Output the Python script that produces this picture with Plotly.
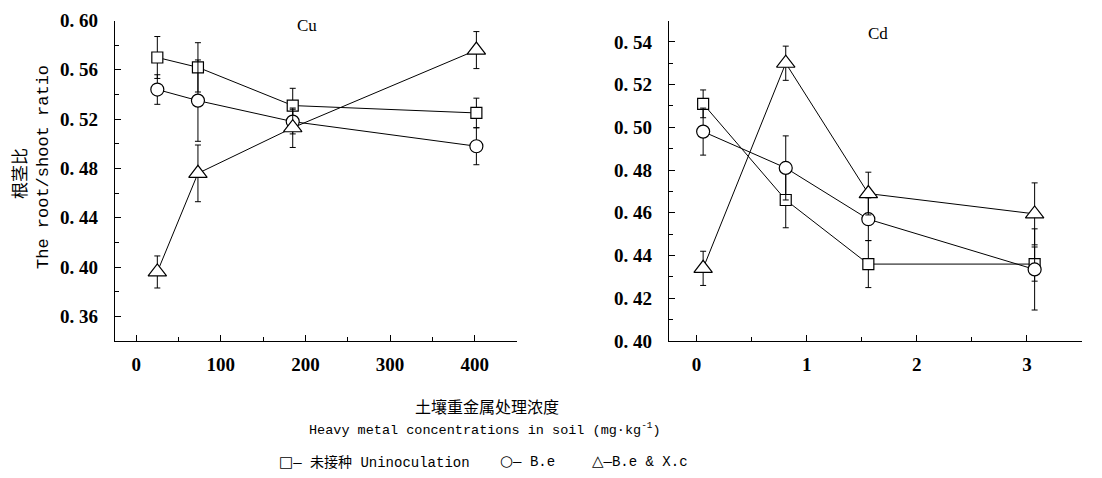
import plotly.graph_objects as go

W, H = 1102, 478

# ---- data ----
x_cu = [25, 73, 185, 402]
cu_uninoc = [0.570, 0.562, 0.531, 0.525]
cu_uninoc_err = [0.017, 0.020, 0.014, 0.012]
cu_be = [0.544, 0.535, 0.518, 0.498]
cu_be_err = [0.012, 0.033, 0.010, 0.015]
cu_bexc = [0.396, 0.476, 0.513, 0.576]
cu_bexc_err = [0.013, 0.023, 0.016, 0.015]

x_cd = [0.06, 0.81, 1.56, 3.07]
cd_uninoc = [0.511, 0.466, 0.436, 0.436]
cd_uninoc_err = [0.0065, 0.013, 0.011, 0.008]
cd_be = [0.498, 0.481, 0.457, 0.4335]
cd_be_err = [0.011, 0.015, 0.010, 0.019]
cd_bexc = [0.434, 0.530, 0.469, 0.4595]
cd_bexc_err = [0.008, 0.008, 0.010, 0.0145]

cu_yticks = [0.36, 0.40, 0.44, 0.48, 0.52, 0.56, 0.60]
cd_yticks = [0.40, 0.42, 0.44, 0.46, 0.48, 0.50, 0.52, 0.54]
cu_xticks = [0, 100, 200, 300, 400]
cd_xticks = [0, 1, 2, 3]

series_names = ["未接种 Uninoculation", "B.e", "B.e & X.c"]
symbols = ["square", "circle", "triangle-up"]
sizes = [11, 13, 16]

fig = go.Figure()

def add_series(x, ys, errs, xa, ya):
    for name, y, e, sym, sz in zip(series_names, ys, errs, symbols, sizes):
        fig.add_trace(go.Scatter(
            x=x, y=y, mode="lines+markers", name=name, showlegend=False,
            xaxis=xa, yaxis=ya,
            line=dict(color="black", width=1),
            marker=dict(symbol=sym, size=sz, color="white",
                        line=dict(color="black", width=1.2)),
            error_y=dict(type="data", array=e, visible=True, color="black",
                         thickness=1, width=3),
        ))

add_series(x_cu, [cu_uninoc, cu_be, cu_bexc], [cu_uninoc_err, cu_be_err, cu_bexc_err], "x", "y")
add_series(x_cd, [cd_uninoc, cd_be, cd_bexc], [cd_uninoc_err, cd_be_err, cd_bexc_err], "x2", "y2")

tickfont = dict(family="Liberation Serif", size=19, color="black", weight="bold")
ydom = [1 - 341 / H, 1 - 20.5 / H]

def fmt(v):
    s = f"{v:.2f}"
    return s.replace(".", ". ")

common_x = dict(showline=True, linecolor="black", linewidth=1.2, ticks="inside",
                ticklen=6, tickcolor="black", showgrid=False, zeroline=False,
                tickfont=tickfont, ticklabelstandoff=6, automargin=False)
common_y = dict(showline=True, linecolor="black", linewidth=1.2, ticks="inside",
                ticklen=6, tickcolor="black", showgrid=False, zeroline=False,
                tickfont=tickfont, ticklabelstandoff=12, automargin=False)

fig.update_layout(
    width=W, height=H, margin=dict(l=0, r=0, t=0, b=0, pad=0, autoexpand=False),
    paper_bgcolor="white", plot_bgcolor="white",
    xaxis=dict(common_x, domain=[115 / W, 517 / W], range=[-25, 450],
               tickvals=cu_xticks, anchor="y",
               minor=dict(tickvals=[50, 150, 250, 350], ticks="inside", ticklen=4, tickcolor="black")),
    yaxis=dict(common_y, domain=ydom, range=[0.34, 0.60], tickvals=cu_yticks,
               ticktext=[fmt(v) for v in cu_yticks], anchor="x",
               minor=dict(tickvals=[0.34, 0.38, 0.42, 0.46, 0.50, 0.54, 0.58], ticks="inside",
                          ticklen=4, tickcolor="black")),
    xaxis2=dict(common_x, domain=[669 / W, 1082 / W], range=[-0.25, 3.5],
                tickvals=cd_xticks, anchor="y2",
                minor=dict(tickvals=[0.5, 1.5, 2.5], ticks="inside", ticklen=4, tickcolor="black")),
    yaxis2=dict(common_y, domain=ydom, range=[0.40, 0.55], tickvals=cd_yticks,
                ticktext=[fmt(v) for v in cd_yticks], anchor="x2",
                minor=dict(tickvals=[0.41, 0.43, 0.45, 0.47, 0.49, 0.51, 0.53, 0.55], ticks="inside",
                           ticklen=4, tickcolor="black")),
)

def ann(text, x, y, font, xanchor="center", **kw):
    fig.add_annotation(text=text, x=x / W, y=1 - y / H, xref="paper", yref="paper",
                       showarrow=False, font=font, xanchor=xanchor, yanchor="middle", **kw)

serif = dict(family="Liberation Serif", size=17, color="black")
mono = dict(family="Liberation Mono", size=13.5, color="black")
cjk = dict(family="Noto Sans CJK SC", size=16, color="black")

ann("Cu", 307, 26, serif)
ann("Cd", 878, 33, serif)

ann("根茎比", 18, 174, dict(family="Noto Sans CJK SC", size=17, color="black"), textangle=-90)
ann("The root/shoot ratio", 43, 167, dict(family="Liberation Mono", size=17, color="black"),
    textangle=-90)

ann("土壤重金属处理浓度", 487, 406, cjk)
ann("Heavy metal concentrations in soil (mg·kg<sup>-1</sup>)", 485, 429, mono)

legfont = dict(family="Liberation Mono", size=14, color="black")
def sym(s):
    return f"<span style='font-family:DejaVu Sans;font-size:15px'>{s}</span>"

ann(sym("□") + "— <span style='font-family:Noto Sans CJK SC'>未接种</span> Uninoculation", 277, 461,
    legfont, xanchor="left")
ann(sym("○") + "— B.e", 498, 461, legfont, xanchor="left")
ann(sym("△") + "—B.e &amp; X.c", 590, 461, legfont, xanchor="left")

fig.write_html("out.html")
